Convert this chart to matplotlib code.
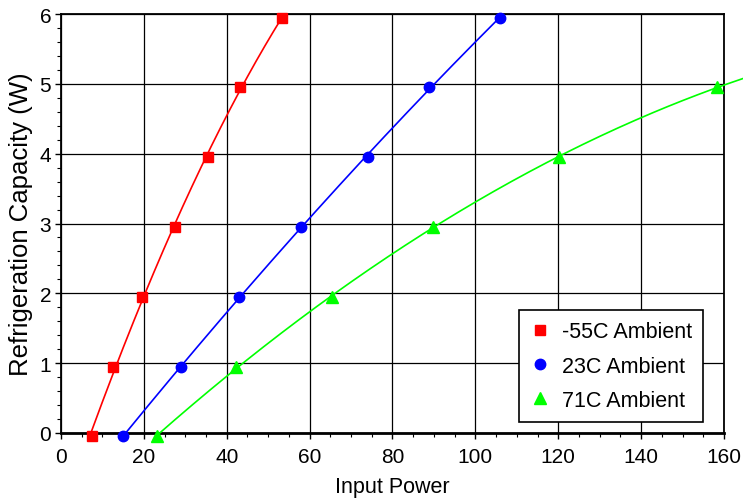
import numpy as np
import matplotlib
matplotlib.use("Agg")
import matplotlib.pyplot as plt
from matplotlib.ticker import MultipleLocator

plt.rcParams['font.family'] = ['Liberation Sans', 'DejaVu Sans']

capacity = [-0.05, 0.95, 1.95, 2.95, 3.95, 4.95, 5.95]
power_m55 = [7.4, 12.6, 19.6, 27.5, 35.5, 43.2, 53.3]
power_23 = [15.0, 28.9, 43.0, 57.9, 74.1, 88.9, 105.9]
power_71 = [23.2, 42.2, 65.3, 89.8, 120.2, 158.2]
cap_71 = capacity[:6]

series = [
    ("-55C Ambient", power_m55, capacity, "#ff0000", "s", 7, None),
    ("23C Ambient", power_23, capacity, "#0000ff", "o", 7.5, None),
    ("71C Ambient", power_71, cap_71, "#00ff00", "^", 8, 165),
]

fig = plt.figure(figsize=(7.43, 5.02), dpi=100)
ax = fig.add_axes([0.0821, 0.1355, 0.8923, 0.8345])

for label, xs, ys, color, marker, ms, xend in series:
    coef = np.polyfit(xs, ys, 2)
    x_hi = xend if xend is not None else xs[-1]
    xf = np.linspace(xs[0], x_hi, 200)
    ax.plot(xf, np.polyval(coef, xf), color=color, lw=1.2, clip_on=False, zorder=3)
    ax.plot(xs, ys, linestyle='none', marker=marker, color=color, ms=ms,
            label=label, clip_on=False, zorder=4)

ax.set_xlim(0, 160)
ax.set_ylim(0, 6)
ax.xaxis.set_major_locator(MultipleLocator(20))
ax.xaxis.set_minor_locator(MultipleLocator(5))
ax.yaxis.set_major_locator(MultipleLocator(1))
ax.yaxis.set_minor_locator(MultipleLocator(0.2))
ax.tick_params(which='major', direction='out', length=4, width=1, labelsize=15, colors='black', pad=3)
ax.tick_params(axis='x', which='major', pad=6)
ax.tick_params(which='minor', direction='out', length=3, width=0.8)
ax.grid(True, which='major', color='black', lw=0.9)
ax.set_axisbelow(True)
for s in ax.spines.values():
    s.set_linewidth(1.3)
    s.set_color('black')
ax.spines['bottom'].set_linewidth(2)

ax.set_xlabel("Input Power", fontsize=15.5, labelpad=7)
ax.set_ylabel("Refrigeration Capacity (W)", fontsize=18.5, labelpad=5)

leg = ax.legend(loc='lower right', bbox_to_anchor=(0.968, 0.027), borderaxespad=0,
                fancybox=False, edgecolor='black', framealpha=1, fontsize=15.5,
                handlelength=1.0, labelspacing=0.62, borderpad=0.5, handletextpad=0.5)
leg.get_frame().set_linewidth(1.2)

fig.savefig("out.png", dpi=100)
